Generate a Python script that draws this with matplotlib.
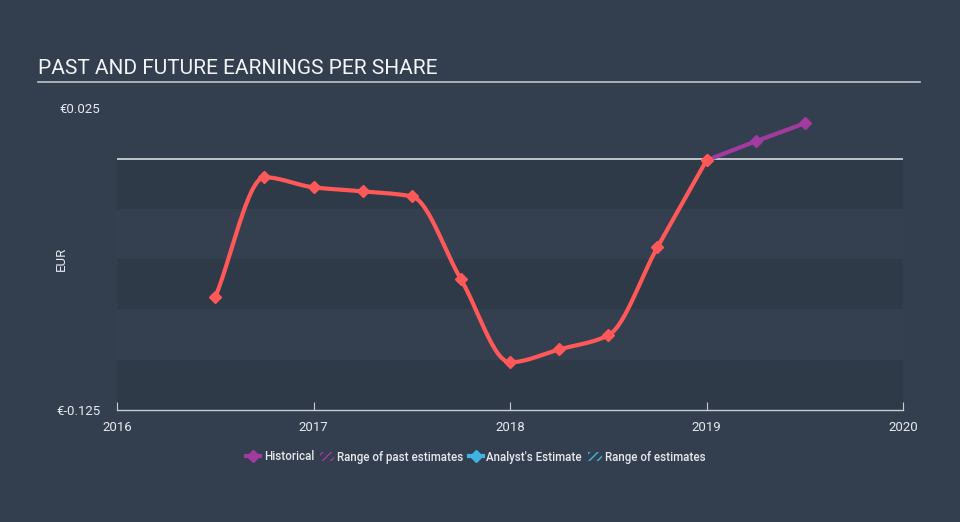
import numpy as np
import matplotlib
matplotlib.use("Agg")
import matplotlib.pyplot as plt
from matplotlib.lines import Line2D
from matplotlib.patches import Patch

plt.rcParams['font.family'] = ['Roboto', 'DejaVu Sans']

# Data
hist_x = [2016.5, 2016.75, 2017.0, 2017.25, 2017.5, 2017.75, 2018.0, 2018.25, 2018.5, 2018.75, 2019.0]
hist_y = [-0.069, -0.0094, -0.0144, -0.0164, -0.0189, -0.060, -0.1013, -0.0949, -0.0879, -0.0442, -0.001]
recent_x = [2019.0, 2019.25, 2019.5]
recent_y = [-0.001, 0.0084, 0.0174]
ytick_vals = [0.025, -0.125]
ytick_labels = ["€0.025", "€-0.125"]
xtick_vals = [2016, 2017, 2018, 2019, 2020]

BG = "#333f4f"
BAND = "#2e3a48"
RED = "#ff5858"
PURPLE = "#a23ba0"
TXT = "#e6e9ed"


def pchip(x, y, n=30):
    x = np.asarray(x, float); y = np.asarray(y, float)
    h = np.diff(x); d = np.diff(y) / h
    m = np.zeros_like(y)
    for k in range(1, len(x) - 1):
        if d[k - 1] * d[k] <= 0:
            m[k] = 0
        else:
            w1 = 2 * h[k] + h[k - 1]; w2 = h[k] + 2 * h[k - 1]
            m[k] = (w1 + w2) / (w1 / d[k - 1] + w2 / d[k])
    m[0] = d[0]; m[-1] = d[-1]
    xs, ys = [], []
    for k in range(len(x) - 1):
        t = np.linspace(0, 1, n)
        h00 = 2*t**3 - 3*t**2 + 1; h10 = t**3 - 2*t**2 + t
        h01 = -2*t**3 + 3*t**2; h11 = t**3 - t**2
        xs.append(x[k] + t * h[k])
        ys.append(h00*y[k] + h10*h[k]*m[k] + h01*y[k+1] + h11*h[k]*m[k+1])
    return np.concatenate(xs), np.concatenate(ys)


fig = plt.figure(figsize=(9.6, 5.22), dpi=100, facecolor=BG)
W, H = 960, 522
ax = fig.add_axes([117/W, 1-410/H, (903-117)/W, (410-108)/H])
ax.set_facecolor(BG)
ax.set_xlim(2016, 2020)
ax.set_ylim(-0.125, 0.025)

# bands
for i, (lo, hi) in enumerate([(-0.025, 0), (-0.05, -0.025), (-0.075, -0.05), (-0.1, -0.075), (-0.125, -0.1)]):
    ax.axhspan(lo, hi, color=BAND if i % 2 == 0 else "#34404f", lw=0, zorder=0)
ax.axhline(-0.0005, color="#d8dce0", lw=1.2, zorder=1)

hx, hy = pchip(hist_x, hist_y)
ax.plot(hx, hy, color=RED, lw=3, zorder=3, solid_capstyle='round')
ax.plot(hist_x, hist_y, ls='none', marker='D', ms=6, color=RED, zorder=4)
rx, ry = pchip(recent_x, recent_y)
ax.plot(rx, ry, color=PURPLE, lw=3, zorder=3, solid_capstyle='round')
ax.plot(recent_x[1:], recent_y[1:], ls='none', marker='D', ms=6, color=PURPLE, zorder=4)
ax.plot(recent_x[:1], recent_y[:1], ls='none', marker='D', ms=6, color=RED, zorder=5)

for s in ['top', 'right', 'left']:
    ax.spines[s].set_visible(False)
ax.spines['bottom'].set_color("#c8ccd2")
ax.spines['bottom'].set_linewidth(1)
ax.set_xticks(xtick_vals)
ax.set_xticklabels([str(v) for v in xtick_vals])
ax.tick_params(axis='x', direction='in', length=6, color="#c8ccd2", labelcolor=TXT, labelsize=9.5, pad=8)
ax.set_yticks(ytick_vals)
ax.set_yticklabels(ytick_labels)
ax.tick_params(axis='y', length=0, labelcolor=TXT, labelsize=9.5, pad=12)
ax.set_ylabel("EUR", color=TXT, fontsize=9.5)
ax.yaxis.set_label_coords((68-117)/786, 0.5)

fig.text(38/W, 1-68/H, "PAST AND FUTURE EARNINGS PER SHARE", color="#f2f4f6", fontsize=15, va='center', ha='left')
fig.add_artist(Line2D([38/W, 920/W], [1-82/H, 1-82/H], color="#c0c4ca", lw=1.2))

handles = [
    Line2D([0], [0], color=PURPLE, lw=3, marker='D', ms=6),
    Patch(facecolor='none', edgecolor=PURPLE, hatch='////', lw=0),
    Line2D([0], [0], color="#3fb4e0", lw=3, marker='D', ms=6),
    Patch(facecolor='none', edgecolor="#3fb4e0", hatch='////', lw=0),
]
labels = ["Historical", "Range of past estimates", "Analyst's Estimate", "Range of estimates"]
leg = fig.legend(handles, labels, loc='center', bbox_to_anchor=(476/W, 1-457/H), ncol=4, frameon=False,
                 fontsize=8.3, labelcolor=TXT, handlelength=1.2, handletextpad=0.3, columnspacing=0.5,
                 handleheight=0.8)
for t in leg.get_texts():
    t.set_fontweight('medium')

fig.savefig("out.png", dpi=100, facecolor=BG)
